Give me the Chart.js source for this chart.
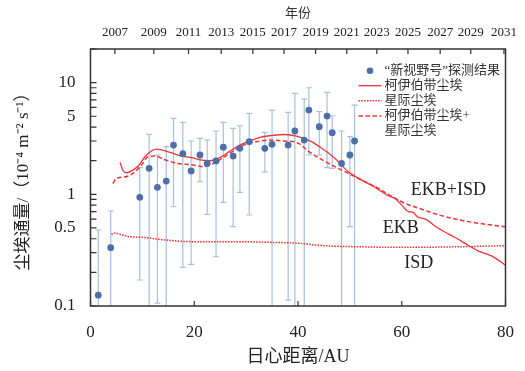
<!DOCTYPE html>
<html>
<head>
<meta charset="utf-8">
<script src="https://cdn.jsdelivr.net/npm/chart.js@4/dist/chart.umd.min.js"></script>
<style>
  html, body { margin: 0; padding: 0; background: #fff; }
  #wrap { width: 525px; height: 371px; }
</style>
</head>
<body>
<div id="wrap"><canvas id="c" width="525" height="371"></canvas></div>
<script>
// ---- New Horizons dust flux measurements (heliocentric distance in AU, flux in 1e-4 m^-2 s^-1)
const obsAU   = [1.5, 3.9, 9.5, 11.3, 12.9, 14.6, 16.0, 17.8, 19.4, 21.1, 22.5, 24.2, 25.6, 27.5,
                 28.8, 30.6, 33.6, 35.0, 38.1, 39.4, 41.2, 42.1, 44.1, 45.6, 46.6, 48.4, 50.0, 50.9];
const obsFlux = [0.125, 0.333, 0.94, 1.71, 1.155, 1.315, 2.76, 2.31, 1.62, 2.25, 1.89, 1.99, 2.64, 2.20,
                 2.58, 2.96, 2.58, 2.80, 2.76, 3.69, 3.06, 5.68, 4.03, 5.02, 3.56, 1.89, 2.25, 3.00];
const obsHigh = [0.479, 0.709, 1.73, 3.44, 2.25, 2.67, 4.79, 4.41, 3.00, 3.17, 3.06, 3.69, 4.41, 3.90,
                 4.11, 5.31, 3.59, 5.68, 5.42, 8.02, 7.13, 9.00, 5.49, 8.18, 5.05, 3.69, 3.28, 6.30];
// null: lower bound is at or below zero, the bar runs down to the axis
const obsLow  = [null, null, 0.171, null, 0.106, null, 0.774, 0.222, 0.236, 1.30, 0.662, 0.276, 0.848, 0.513,
                 1.04, 0.653, 1.59, null, 0.113, null, null, 2.25, 2.25, 1.73, 1.71, null, 0.513, null];

// ---- Edgeworth-Kuiper belt dust model (EKB)
const ekbAU   = [5.7, 6.3, 7.0, 7.9, 9.2, 10.8, 12.7, 15.0, 17.6, 20.1, 21.1, 23.0, 25.0, 26.9, 28.8,
                 30.7, 32.7, 34.6, 37.5, 39.7, 42.6, 44.6, 47.1, 49.7, 52.3, 54.9, 57.4, 58.7, 60.0,
                 61.3, 62.2, 63.0, 64.6, 66.4, 68.3, 70.3, 72.8, 74.8, 77.4, 79.9];
const ekbFlux = [1.93, 1.62, 1.56, 1.62, 1.79, 2.25, 2.54, 2.40, 2.20, 2.10, 2.03, 2.00, 2.14, 2.44, 2.76,
                 3.00, 3.24, 3.35, 3.43, 3.32, 2.96, 2.58, 2.10, 1.59, 1.34, 1.15, 0.97, 0.92, 0.80,
                 0.70, 0.69, 0.63, 0.60, 0.52, 0.46, 0.41, 0.35, 0.31, 0.28, 0.233];

// ---- Interstellar dust model (ISD)
const isdAU   = [4.0, 4.8, 5.6, 7.3, 10.5, 14.4, 19.5, 28.8, 34.0, 40.4, 43.3, 47.1, 52.3, 58.7, 65.0, 72.0, 79.9];
const isdFlux = [0.44, 0.45, 0.44, 0.42, 0.41, 0.39, 0.377, 0.377, 0.372, 0.364, 0.352, 0.343, 0.339, 0.335, 0.336, 0.34, 0.347];

// ---- EKB + ISD
const sumAU   = [4.3, 5.0, 6.0, 7.3, 8.6, 9.9, 11.1, 12.4, 14.3, 16.9, 19.5, 21.7, 23.7, 25.6, 27.5,
                 29.5, 32.0, 34.6, 37.2, 39.7, 42.2, 44.6, 47.1, 49.7, 52.3, 54.9, 57.4, 60.6, 62.6,
                 66.4, 70.3, 74.1, 79.9];
const sumFlux = [1.25, 1.39, 1.42, 1.46, 1.59, 1.85, 2.17, 2.20, 2.04, 1.89, 1.84, 1.77, 1.89, 2.14, 2.44,
                 2.76, 2.96, 3.06, 3.00, 2.92, 2.40, 2.04, 1.77, 1.54, 1.34, 1.17, 1.00, 0.83, 0.77,
                 0.67, 0.60, 0.557, 0.513];

// ---- Axis ticks
const distTicks    = [0, 20, 40, 60, 80];
const yearLabels   = ['2007', '2009', '2011', '2013', '2015', '2017', '2019', '2021', '2023', '2025', '2027', '2029', '2031'];
const yearAU       = [4.7, 12.2, 18.9, 25.2, 31.3, 37.3, 43.4, 49.4, 55.2, 61.2, 67.4, 73.3, 79.7];
const fluxTicks    = [0.1, 0.2, 0.3, 0.4, 0.5, 0.6, 0.7, 0.8, 0.9, 1, 2, 3, 4, 5, 6, 7, 8, 9, 10, 20];
const fluxLabelled = [0.1, 0.5, 1, 5, 10];
const fluxLabels   = ['0.1', '0.5', '1', '5', '10'];

// ---- Legend and curve names
const seriesNames = ['“新视野号”探测结果', '柯伊伯带尘埃', '星际尘埃', ['柯伊伯带尘埃+', '星际尘埃']];
const curveTags   = ['EKB+ISD', 'EKB', 'ISD'];

const SERIF = "'Liberation Serif', 'Noto Sans CJK SC', serif";
const RED = '#e8363b';
const DOT = '#4d6fa8';
const BAR = '#a9bfdc';
const INK = '#222';

const pts = (xs, ys) => xs.map((x, i) => ({ x: x, y: ys[i] }));

const decorations = {
  id: 'decorations',
  beforeDatasetsDraw(chart) {
    const { ctx, chartArea: a, scales: { x, y } } = chart;
    ctx.save();
    ctx.beginPath();
    ctx.rect(a.left, a.top, a.right - a.left, a.bottom - a.top);
    ctx.clip();
    ctx.strokeStyle = BAR;
    ctx.lineWidth = 1.2;
    const cap = 3;
    obsAU.forEach((au, i) => {
      const px = x.getPixelForValue(au);
      const top = y.getPixelForValue(obsHigh[i]);
      const bot = obsLow[i] == null ? a.bottom + 2 : y.getPixelForValue(obsLow[i]);
      ctx.beginPath();
      ctx.moveTo(px, top); ctx.lineTo(px, bot);
      ctx.moveTo(px - cap, top); ctx.lineTo(px + cap, top);
      if (obsLow[i] != null) { ctx.moveTo(px - cap, bot); ctx.lineTo(px + cap, bot); }
      ctx.stroke();
    });
    ctx.restore();
  },
  afterDraw(chart) {
    const { ctx, chartArea: a, scales: { x, xTop, y } } = chart;
    ctx.save();
    // frame
    ctx.strokeStyle = '#333';
    ctx.lineWidth = 1.5;
    ctx.strokeRect(a.left, a.top, a.right - a.left, a.bottom - a.top);
    // inward tick marks
    ctx.lineWidth = 1.2;
    ctx.beginPath();
    y.ticks.forEach(t => {
      const py = y.getPixelForValue(t.value);
      ctx.moveTo(a.left, py); ctx.lineTo(a.left + 6, py);
    });
    x.ticks.forEach(t => {
      const px = x.getPixelForValue(t.value);
      ctx.moveTo(px, a.bottom); ctx.lineTo(px, a.bottom - 5);
    });
    xTop.ticks.forEach(t => {
      const px = xTop.getPixelForValue(t.value);
      ctx.moveTo(px, a.top); ctx.lineTo(px, a.top + 5);
    });
    ctx.stroke();

    // legend
    const ds = chart.data.datasets;
    const lineX0 = a.right - 147, lineX1 = a.right - 124, textX = a.right - 121;
    const rows = [a.top + 21.7, a.top + 36.7, a.top + 51.7, a.top + 67, a.top + 82];
    ctx.font = "13px " + SERIF;
    ctx.textBaseline = 'middle';
    ctx.textAlign = 'left';
    ctx.beginPath();
    ctx.fillStyle = DOT;
    ctx.arc(a.right - 135.5, rows[0], 3.3, 0, Math.PI * 2);
    ctx.fill();
    ctx.fillStyle = '#333';
    ctx.fillText(seriesNames[0], textX, rows[0]);
    [1, 2, 3].forEach(k => {
      ctx.save();
      ctx.strokeStyle = ds[k].borderColor;
      ctx.lineWidth = ds[k].borderWidth;
      ctx.setLineDash(ds[k].borderDash || []);
      ctx.beginPath();
      ctx.moveTo(lineX0, rows[k]); ctx.lineTo(lineX1, rows[k]);
      ctx.stroke();
      ctx.restore();
      const name = seriesNames[k];
      if (Array.isArray(name)) {
        name.forEach((s, j) => ctx.fillText(s, textX, rows[k + j]));
      } else {
        ctx.fillText(name, textX, rows[k]);
      }
    });

    // curve names
    ctx.font = "18px " + SERIF;
    ctx.fillStyle = INK;
    ctx.textAlign = 'center';
    const tagPos = [[69.0, 1.08], [59.8, 0.50], [63.3, 0.243]];
    curveTags.forEach((tag, i) => {
      ctx.fillText(tag, x.getPixelForValue(tagPos[i][0]), y.getPixelForValue(tagPos[i][1]));
    });
    ctx.restore();
  }
};

const lineStyle = {
  showLine: true, pointRadius: 0, borderColor: RED, backgroundColor: RED,
  cubicInterpolationMode: 'monotone', fill: false
};

// horizontal axes: fixed height, and no extra side padding for overhanging labels
const fixHeight = h => s => { s.height = h; s.paddingLeft = 0; s.paddingRight = 0; };

new Chart(document.getElementById('c'), {
  type: 'scatter',
  data: {
    datasets: [
      { label: seriesNames[0], data: pts(obsAU, obsFlux), pointRadius: 3.4, pointBackgroundColor: DOT,
        pointBorderWidth: 0, showLine: false },
      Object.assign({ label: seriesNames[1], data: pts(ekbAU, ekbFlux), borderWidth: 1.3 }, lineStyle),
      Object.assign({ label: seriesNames[2], data: pts(isdAU, isdFlux), borderWidth: 1.5, borderDash: [1.6, 1.2] }, lineStyle),
      Object.assign({ label: seriesNames[3].join(''), data: pts(sumAU, sumFlux), borderWidth: 1.5, borderDash: [4.5, 2.5] }, lineStyle)
    ]
  },
  options: {
    responsive: false,
    animation: false,
    events: [],
    layout: { padding: { left: 0, right: 19.5, top: 0, bottom: 0 } },
    plugins: { legend: { display: false }, tooltip: { enabled: false } },
    scales: {
      x: {
        type: 'linear', position: 'bottom', min: 0, max: 80,
        afterBuildTicks: s => { s.ticks = distTicks.map(v => ({ value: v })); },
        afterFit: fixHeight(65),
        grid: { display: false, drawTicks: false },
        border: { display: false },
        ticks: { autoSkip: false, maxRotation: 0, padding: 16, color: INK,
                 font: { family: SERIF, size: 17 }, callback: v => String(v) },
        title: { display: true, text: '日心距离/AU', color: INK,
                 font: { family: SERIF, size: 18 }, padding: { top: 0, bottom: 3 } }
      },
      xTop: {
        type: 'linear', position: 'top', min: 0, max: 80,
        afterBuildTicks: s => { s.ticks = yearAU.map(v => ({ value: v })); },
        afterFit: fixHeight(49),
        grid: { display: false, drawTicks: false },
        border: { display: false },
        ticks: { autoSkip: false, maxRotation: 0, padding: 9, color: INK,
                 font: { family: SERIF, size: 13 }, callback: (v, i) => yearLabels[i] },
        title: { display: true, text: '年份', color: '#333',
                 font: { family: SERIF, size: 13 }, padding: { top: 6, bottom: 0 } }
      },
      y: {
        type: 'logarithmic', position: 'left', min: 0.1, max: 20,
        afterBuildTicks: s => { s.ticks = fluxTicks.map(v => ({ value: v })); },
        afterFit: s => { s.width = 90.5; s.paddingTop = 0; s.paddingBottom = 0; },
        grid: { display: false, drawTicks: false },
        border: { display: false },
        ticks: { autoSkip: false, padding: 15, color: INK, font: { family: SERIF, size: 17 },
                 callback: v => {
                   const k = fluxLabelled.findIndex(f => Math.abs(f - v) < 1e-9);
                   return k >= 0 ? fluxLabels[k] : '';
                 } },
        title: { display: true, text: '尘埃通量/（10⁻⁴ m⁻² s⁻¹）', color: INK,
                 font: { family: SERIF, size: 17 }, padding: { top: 13, bottom: 0 } }
      }
    }
  },
  plugins: [decorations]
});
</script>
</body>
</html>
